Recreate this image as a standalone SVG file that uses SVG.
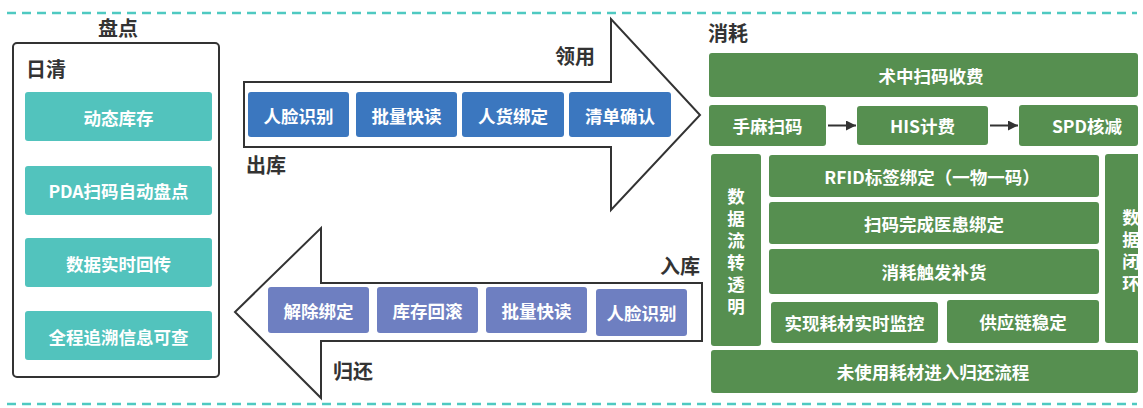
<svg xmlns="http://www.w3.org/2000/svg" width="1143" height="408" viewBox="0 0 1143 408">
<style>
text{font-family:"Noto Sans CJK SC","Noto Sans",sans-serif;font-weight:bold;dominant-baseline:central}
.t{font-size:17.5px;fill:#fff;text-anchor:middle}
.v{font-size:17.5px;fill:#fff;text-anchor:middle;writing-mode:vertical-rl;letter-spacing:4.5px}
.h{font-size:20px;fill:#333}
.teal{fill:#52c3bd}
.blue{fill:#3b77bf}
.pur{fill:#6e7fc1}
.grn{fill:#568f50}
.dash{stroke:#4fc9c1;stroke-width:2.5;stroke-dasharray:9 6;fill:none}
.arw{fill:#fff;stroke:#333;stroke-width:2;stroke-linejoin:miter}
.con{stroke:#333;stroke-width:2;fill:none}
</style>
<defs>
<marker id="ah" viewBox="0 0 10 10" refX="10" refY="5" markerWidth="5" markerHeight="5" orient="auto" markerUnits="strokeWidth">
<path d="M0,0 L10,5 L0,10 z" fill="#333"/>
</marker>
<clipPath id="clipR"><rect x="0" y="0" width="1138" height="408"/></clipPath>
</defs>
<rect width="1143" height="408" fill="#fff"/>
<line class="dash" x1="7" y1="13" x2="1137" y2="13"/>
<line class="dash" x1="7" y1="404" x2="1137" y2="404"/>

<g id="panel-pandian">
<text class="h" x="118" y="27" text-anchor="middle">盘点</text>
<rect x="13" y="43" width="206" height="334" rx="4" fill="#fff" stroke="#333" stroke-width="2"/>
<text class="h" x="26" y="68">日清</text>
</g>
<g id="n-dongtai"><rect class="teal" x="25" y="92" width="187" height="49" rx="3"/><text class="t" x="118.5" y="117">动态库存</text></g>
<g id="n-pda"><rect class="teal" x="25" y="166" width="187" height="49" rx="3"/><text class="t" x="118.5" y="190">PDA扫码自动盘点</text></g>
<g id="n-shuju"><rect class="teal" x="25" y="238" width="187" height="49" rx="3"/><text class="t" x="118.5" y="263">数据实时回传</text></g>
<g id="n-quancheng"><rect class="teal" x="25" y="311" width="187" height="49" rx="3"/><text class="t" x="118.5" y="336">全程追溯信息可查</text></g>

<g id="arrow-lingyong">
<polygon class="arw" points="244,82 611,82 611,19 700,115 611,210 611,147 244,147"/>
<text class="h" x="575" y="55" text-anchor="middle">领用</text>
<text class="h" x="246" y="164" font-size="19">出库</text>
</g>
<g id="n-out1"><rect class="blue" x="248" y="92" width="101" height="45" rx="3"/><text class="t" x="298.5" y="115">人脸识别</text></g>
<g id="n-out2"><rect class="blue" x="356" y="92" width="101" height="45" rx="3"/><text class="t" x="406.5" y="115">批量快读</text></g>
<g id="n-out3"><rect class="blue" x="462" y="92" width="102" height="45" rx="3"/><text class="t" x="513" y="115">人货绑定</text></g>
<g id="n-out4"><rect class="blue" x="569" y="92" width="102" height="45" rx="3"/><text class="t" x="620" y="115">清单确认</text></g>

<g id="arrow-guihuan">
<polygon class="arw" points="702,283 321,283 321,228 235,312 321,398 321,341 702,341"/>
<text class="h" x="680" y="265" text-anchor="middle" font-size="19">入库</text>
<text class="h" x="333" y="370">归还</text>
</g>
<g id="n-in1"><rect class="pur" x="268" y="287" width="101" height="46" rx="3"/><text class="t" x="318.5" y="310">解除绑定</text></g>
<g id="n-in2"><rect class="pur" x="377" y="287" width="101" height="46" rx="3"/><text class="t" x="427.5" y="310">库存回滚</text></g>
<g id="n-in3"><rect class="pur" x="486" y="287" width="101" height="46" rx="3"/><text class="t" x="536.5" y="310">批量快读</text></g>
<g id="n-in4"><rect class="pur" x="596" y="289" width="91" height="47" rx="3"/><text class="t" x="641.5" y="312">人脸识别</text></g>

<g id="panel-xiaohao">
<text class="h" x="708" y="32">消耗</text>
</g>
<g id="n-shuzhong"><rect class="grn" x="709" y="53" width="429" height="44" rx="3"/><text class="t" x="931" y="75">术中扫码收费</text></g>
<g id="n-shouma"><rect class="grn" x="709" y="105" width="117" height="41" rx="3"/><text class="t" x="767.5" y="125.5">手麻扫码</text></g>
<g id="n-his"><rect class="grn" x="857" y="106" width="131" height="39" rx="3"/><text class="t" x="922.5" y="125.5">HIS计费</text></g>
<g id="n-spd"><rect class="grn" x="1019" y="105" width="119" height="41" rx="3"/><text class="t" x="1087" y="125.5">SPD核减</text></g>
<g id="n-liuzhuan"><rect class="grn" x="711" y="154" width="50" height="192" rx="3"/>
<text class="v" x="736" y="254">数据流转透明</text></g>
<g id="n-rfid"><rect class="grn" x="769" y="155" width="330" height="42" rx="3"/><text class="t" x="932" y="176">RFID标签绑定（一物一码）</text></g>
<g id="n-yihuan"><rect class="grn" x="769" y="202" width="330" height="42" rx="3"/><text class="t" x="934" y="223">扫码完成医患绑定</text></g>
<g id="n-buhuo"><rect class="grn" x="769" y="249" width="330" height="45" rx="3"/><text class="t" x="934" y="271">消耗触发补货</text></g>
<g id="n-jiankong"><rect class="grn" x="771" y="302" width="167" height="41" rx="3"/><text class="t" x="854.5" y="322.5">实现耗材实时监控</text></g>
<g id="n-gongying"><rect class="grn" x="947" y="300" width="152" height="43" rx="3"/><text class="t" x="1023" y="321.5">供应链稳定</text></g>
<g id="n-bihuan" clip-path="url(#clipR)"><rect class="grn" x="1105" y="154" width="40" height="189" rx="3"/>
<text class="v" x="1131" y="253">数据闭环</text></g>
<g id="n-weishiyong"><rect class="grn" x="711" y="350" width="427" height="43" rx="3"/><text class="t" x="933" y="371.5">未使用耗材进入归还流程</text></g>

<g id="connectors">
<line class="con" x1="828" y1="125.5" x2="856" y2="125.5" marker-end="url(#ah)"/>
<line class="con" x1="990" y1="125.5" x2="1018" y2="125.5" marker-end="url(#ah)"/>
</g>
</svg>
